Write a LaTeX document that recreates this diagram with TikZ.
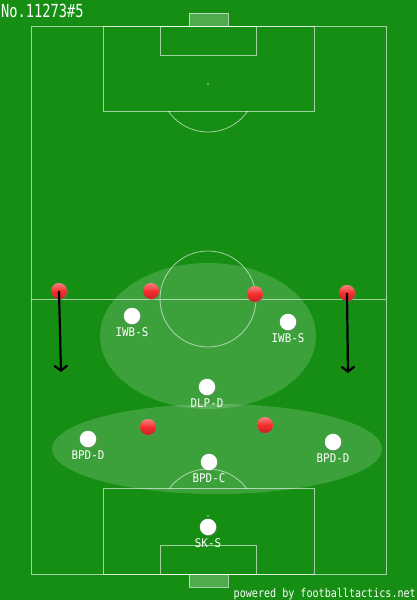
\documentclass[tikz,border=0pt]{standalone}
\usepackage{fontspec}
\newfontfamily\lblfont[FakeStretch=0.9]{DejaVu Sans Mono}
\newfontfamily\titlefont[FakeStretch=0.76]{DejaVu Sans Mono}
\newfontfamily\footfont[FakeStretch=0.84]{DejaVu Sans Mono}
\usetikzlibrary{arrows.meta,shadows}
\definecolor{pitch}{RGB}{22,142,20}
\definecolor{oppred}{RGB}{245,45,45}
\tikzset{
  mark line/.style={draw=white, draw opacity=0.6, line width=0.8pt},
  goalbox/.style={mark line, fill=white, fill opacity=0.25},
  zone/.style={fill=white, fill opacity=0.17},
  opp/.style={circle, minimum size=16pt, inner sep=0pt,
    top color=oppred!60!white, bottom color=oppred!80!black, middle color=oppred,
    drop shadow={shadow xshift=1pt, shadow yshift=-1pt, opacity=0.45}},
  own/.style={circle, minimum size=16.5pt, inner sep=0pt, fill=white,
    drop shadow={shadow xshift=1pt, shadow yshift=-1pt, opacity=0.45}},
  lbl/.style={text=white, font=\lblfont\fontsize{12pt}{12pt}\selectfont, inner sep=0pt},
  run/.style={draw=black, line width=2.2pt, -{Straight Barb[length=5pt,width=13pt]}}
}
\begin{document}
\begin{tikzpicture}[x=1pt,y=-1pt, label distance=3pt]
\fill[pitch] (0,0) rectangle (417,600);
\useasboundingbox (0,0) rectangle (417,600);
% pitch markings
\draw[mark line] (31,26) rectangle (386,574);
\draw[mark line] (31,299) -- (386,299);
\draw[mark line] (208,299) circle (48pt);
\draw[mark line] (103,26) rectangle (314,111);
\draw[mark line] (160,26) rectangle (256,55);
\draw[goalbox] (189,13) rectangle (228,26);
\draw[mark line] (103,488) rectangle (314,574);
\draw[mark line] (160,545) rectangle (256,574);
\draw[goalbox] (189,574) rectangle (228,587);
\fill[white, opacity=0.6] (208,84) circle (0.9pt);
\fill[white, opacity=0.6] (208,516) circle (0.9pt);
\begin{scope}
  \clip (0,111) rectangle (417,200);
  \draw[mark line] (208,84) circle (48pt);
\end{scope}
\begin{scope}
  \clip (0,400) rectangle (417,488);
  \draw[mark line] (208,517) circle (48pt);
\end{scope}
% zones
\fill[zone] (208,336) ellipse [x radius=108pt, y radius=73pt];
\fill[zone] (217,449) ellipse [x radius=165pt, y radius=45pt];
% opponents
\node[opp] (r1) at (59,291) {};
\node[opp] (r2) at (151,291) {};
\node[opp] (r3) at (255,294) {};
\node[opp] (r4) at (347,293) {};
\node[opp] (r5) at (148,427) {};
\node[opp] (r6) at (265,425) {};
% own players
\node[own, label={[lbl]below:IWB-S}] (w1) at (132,316) {};
\node[own, label={[lbl]below:IWB-S}] (w2) at (288,322) {};
\node[own, label={[lbl]below:DLP-D}] (w3) at (207,387) {};
\node[own, label={[lbl]below:BPD-D}] (w4) at (88,439) {};
\node[own, label={[lbl]below:BPD-C}] (w5) at (209,462) {};
\node[own, label={[lbl]below:BPD-D}] (w6) at (333,442) {};
\node[own, label={[lbl]below:SK-S}] (w7) at (208,527) {};
% runs
\coordinate (e1) at (61,372);
\coordinate (e2) at (348,373);
\draw[run] (r1.center) -- (e1);
\draw[run] (r4.center) -- (e2);
% texts
\node[anchor=base west, inner sep=0pt, text=white, font=\titlefont\fontsize{18pt}{18pt}\selectfont] (title) at (1,17) {No.11273\#5};
\node[anchor=base east, inner sep=0pt, text=white, font=\footfont\fontsize{12pt}{12pt}\selectfont] (foot) at (416,597) {powered by footballtactics.net};
\end{tikzpicture}
\end{document}
